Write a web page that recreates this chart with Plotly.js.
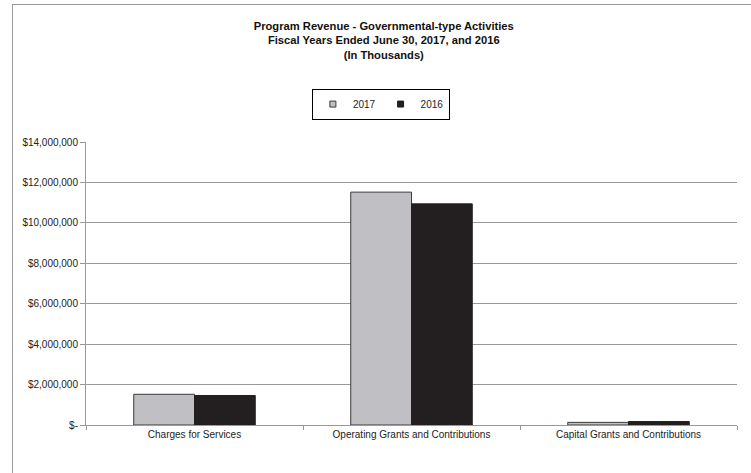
<!DOCTYPE html>
<html>
<head>
<meta charset="utf-8">
<script src="https://cdn.plot.ly/plotly-3.0.1.min.js"></script>
<style>
html,body{margin:0;padding:0;background:#fff;}
#wrap{position:relative;width:751px;height:473px;}
#chart{width:751px;height:473px;}
#frame{position:absolute;left:12px;top:4px;width:760px;height:480px;border-left:1px solid #9a9a9a;border-top:1px solid #9a9a9a;pointer-events:none;}
</style>
</head>
<body>
<div id="wrap"><div id="chart"></div><div id="frame"></div></div>
<script>
const categories = ["Charges for Services", "Operating Grants and Contributions", "Capital Grants and Contributions"];
const values2017 = [1520000, 11520000, 130000];
const values2016 = [1460000, 10940000, 170000];
const yTickVals = [0, 2000000, 4000000, 6000000, 8000000, 10000000, 12000000, 14000000];
const yTickText = ["$-", "$2,000,000", "$4,000,000", "$6,000,000", "$8,000,000", "$10,000,000", "$12,000,000", "$14,000,000"];

const traces = [
  {type: "bar", name: "2017", x: categories, y: values2017, showlegend: false,
   marker: {color: "#c0c0c4", line: {color: "#3a3a3a", width: 1}}},
  {type: "bar", name: "2016", x: categories, y: values2016, showlegend: false,
   marker: {color: "#231f20", line: {color: "#231f20", width: 1}}},
  {type: "scatter", mode: "markers", name: "2017", x: [null], y: [null], showlegend: true,
   marker: {symbol: "square", size: 6, color: "#c0c0c4", line: {color: "#3a3a3a", width: 1}}},
  {type: "scatter", mode: "markers", name: "2016", x: [null], y: [null], showlegend: true,
   marker: {symbol: "square", size: 6, color: "#231f20", line: {color: "#231f20", width: 1}}}
];

const layout = {
  width: 751, height: 473,
  margin: {l: 86, r: 14, t: 142, b: 48},
  paper_bgcolor: "#fff", plot_bgcolor: "#fff",
  font: {family: "Liberation Sans, Arial, sans-serif", size: 10, color: "#222"},
  title: {
    text: "<b>Program Revenue - Governmental-type Activities<br>Fiscal Years Ended June 30, 2017, and 2016<br>(In Thousands)</b>",
    font: {family: "Liberation Sans, Arial, sans-serif", size: 11.2, color: "#111"},
    x: 0.511, xanchor: "center", y: 0.937, yanchor: "top"
  },
  barmode: "group", bargap: 0.44, bargroupgap: 0,
  showlegend: true,
  legend: {orientation: "h", x: 0.347, xanchor: "left", y: 1.134, yanchor: "middle",
    bordercolor: "#000", borderwidth: 1, font: {size: 10, color: "#222"},
    itemwidth: 30, traceorder: "normal", tracegroupgap: 0},
  xaxis: {type: "category", showgrid: false, showline: true, linecolor: "#999", linewidth: 1,
    ticks: "outside", tickson: "boundaries", ticklen: 4, tickcolor: "#999",
    tickfont: {size: 10, color: "#222"}, fixedrange: true},
  yaxis: {range: [0, 14000000], tickvals: yTickVals, ticktext: yTickText,
    showgrid: true, gridcolor: "#999", gridwidth: 1, zeroline: false,
    showline: true, linecolor: "#999", linewidth: 1,
    ticks: "outside", ticklen: 5, tickcolor: "#999",
    tickfont: {size: 10, color: "#222"}, fixedrange: true}
};

Plotly.newPlot("chart", traces, layout, {displayModeBar: false, staticPlot: true});
</script>
</body>
</html>
